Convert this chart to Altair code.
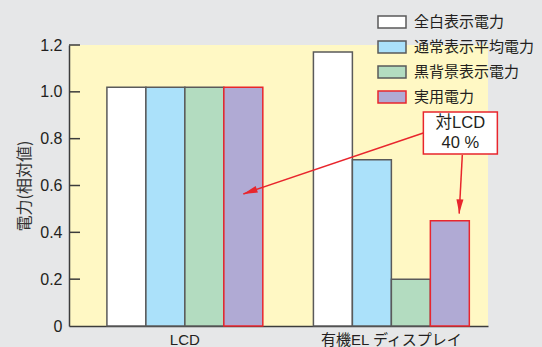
import altair as alt
import pandas as pd

# Power consumption (relative to LCD) by display mode
groups = ["LCD", "有機EL ディスプレイ"]
series = ["全白表示電力", "通常表示平均電力", "黒背景表示電力", "実用電力"]
lcd_values = [1.02, 1.02, 1.02, 1.02]
oled_values = [1.17, 0.71, 0.20, 0.45]

# y ticks
tick_values = [0, 0.2, 0.4, 0.6, 0.8, 1.0, 1.2]

# callout: "対LCD 40 %"
callout_text = "対LCD\n40 %"
callout_group = "有機EL ディスプレイ"
callout_pos = 3.77        # position within the group, in bar widths
callout_value = 0.824

# callout arrows: start (at the box) and tip, as group / position-in-group / value
arrow_ids = ["a1", "a1", "a2", "a2"]
arrow_order = [0, 1, 0, 1]
arrow_groups = ["有機EL ディスプレイ", "LCD", "有機EL ディスプレイ", "有機EL ディスプレイ"]
arrow_pos = [2.82, 3.5, 3.82, 3.74]
arrow_values = [0.824, 0.564, 0.73, 0.48]

fills = ["#ffffff", "#abe1fa", "#b3dcc0", "#b0aad4"]
strokes = ["#5a5a5a", "#5a5a5a", "#5a5a5a", "#e8262d"]
RED = "#e8262d"
INK = "#231f20"
FONT = "Liberation Sans, Noto Sans CJK JP"
NUM_FONT = "Liberation Sans"

rows = []
for g, vals in zip(groups, [lcd_values, oled_values]):
    for s, v in zip(series, vals):
        rows.append({"group": g, "series": s, "value": v})
bars_df = pd.DataFrame(rows)

ticks_df = pd.DataFrame({"v": [t for t in tick_values if t > 0]})
arrows_df = pd.DataFrame({"arrow": arrow_ids, "order": arrow_order, "group": arrow_groups,
                          "pos": arrow_pos, "value": arrow_values})
box_df = pd.DataFrame({"group": [callout_group], "pos": [callout_pos],
                       "value": [callout_value], "label": [callout_text]})

y_scale = alt.Scale(domain=[0, 1.2], nice=False, zero=True)
x_enc = alt.X("group:N", sort=groups, title=None,
              scale=alt.Scale(paddingInner=0.245, paddingOuter=0.137, align=0.67),
              axis=alt.Axis(labelAngle=0, ticks=False, labelPadding=6, labelFontSize=15,
                            labelFont=FONT, labelColor=INK, domainColor="#3c3c3c",
                            domainWidth=1.5))
y_enc = alt.Y("value:Q", scale=y_scale, title="電力(相対値)",
              axis=alt.Axis(values=tick_values, grid=False, ticks=False,
                            labelExpr="datum.value == 0 ? '0' : format(datum.value, '.1f')",
                            labelFontSize=16, labelFont=NUM_FONT, labelColor=INK,
                            labelPadding=7, domainColor="#3c3c3c", domainWidth=1.5,
                            titleFont="Noto Sans CJK JP", titleFontSize=16,
                            titleFontWeight="normal", titleColor="#333333", titlePadding=7))

legend = alt.Legend(title=None, orient="none", legendX=308, legendY=-38,
                    symbolType="M-1,-0.43H1V0.43H-1Z", symbolSize=784,
                    symbolStrokeWidth=1.5, labelFont=FONT, labelFontSize=15,
                    labelColor=INK, rowPadding=0, labelOffset=7)

bars = alt.Chart(bars_df).mark_bar(strokeWidth=1.5, opacity=1).encode(
    x=x_enc,
    xOffset=alt.XOffset("series:N", sort=series,
                        scale=alt.Scale(paddingInner=0, paddingOuter=0)),
    y=y_enc,
    fill=alt.Fill("series:N", sort=series, scale=alt.Scale(domain=series, range=fills),
                  legend=legend),
    stroke=alt.Stroke("series:N", sort=series, scale=alt.Scale(domain=series, range=strokes),
                      legend=legend),
)

# inward tick marks on the y axis
yticks = alt.Chart(ticks_df).mark_rule(color="#3c3c3c", strokeWidth=1.5).encode(
    y=alt.Y("v:Q", scale=y_scale),
    x=alt.value(0), x2=alt.value(11),
)

pos_scale = alt.Scale(domain=[0, 4], nice=False, zero=False)

arrow_lines = alt.Chart(arrows_df).mark_line(color=RED, strokeWidth=1.5).encode(
    x=alt.X("group:N", sort=groups),
    xOffset=alt.XOffset("pos:Q", scale=pos_scale),
    y=alt.Y("value:Q", scale=y_scale),
    detail="arrow:N",
    order="order:Q",
)

head_path = "M0,0L0.42,1.7L-0.42,1.7Z"
heads = []
for aid, ang in [("a1", 251), ("a2", 183)]:
    heads.append(
        alt.Chart(arrows_df).transform_filter(
            (alt.datum.arrow == aid) & (alt.datum.order == 1)
        ).mark_point(shape=head_path, size=280, filled=True, color=RED,
                     opacity=1, angle=ang).encode(
            x=alt.X("group:N", sort=groups),
            xOffset=alt.XOffset("pos:Q", scale=pos_scale),
            y=alt.Y("value:Q", scale=y_scale),
        )
    )

box = alt.Chart(box_df).mark_point(shape="M-1,-0.5676L1,-0.5676L1,0.5676L-1,0.5676Z",
                                   size=5476, filled=True, fill="#ffffff",
                                   stroke=RED, strokeWidth=1.5, opacity=1).encode(
    x=alt.X("group:N", sort=groups),
    xOffset=alt.XOffset("pos:Q", scale=pos_scale),
    y=alt.Y("value:Q", scale=y_scale),
)

box_text = alt.Chart(box_df).mark_text(font=FONT, fontSize=16.5, color=INK,
                                       lineBreak="\n", lineHeight=20, dy=-10,
                                       baseline="middle", align="center").encode(
    x=alt.X("group:N", sort=groups),
    xOffset=alt.XOffset("pos:Q", scale=pos_scale),
    y=alt.Y("value:Q", scale=y_scale),
    text="label:N",
)

chart = alt.layer(bars, yticks, arrow_lines, *heads, box, box_text).resolve_scale(
    xOffset="independent"
).properties(
    width=419, height=281,
    autosize=alt.AutoSizeParams(type="none"),
    padding={"left": 69, "top": 45, "right": 54, "bottom": 21},
    background="#e6e7e8",
).configure_view(fill="#fff8c4", strokeWidth=0)

chart.save("out.html", embed_options={"renderer": "svg", "actions": False})
